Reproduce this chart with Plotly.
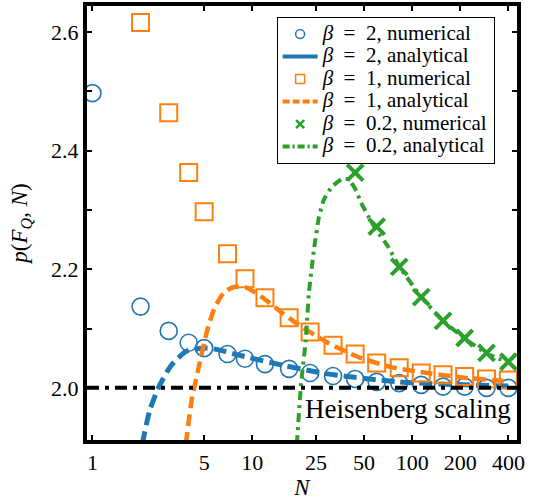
import plotly.graph_objects as go

# ---- data ----
N_num = [1, 2, 3, 4, 5, 7, 9, 12, 17, 23, 32, 44, 60, 83, 114, 156, 213, 292, 400]
p_b2_num = [2.497, 2.137, 2.096, 2.076, 2.067, 2.057, 2.049, 2.040, 2.032, 2.025,
            2.020, 2.015, 2.010, 2.008, 2.005, 2.002, 2.002, 2.000, 2.000]

N_b1_num = [2, 3, 4, 5, 7, 9, 12, 17, 23, 32, 44, 60, 83, 114, 156, 213, 292, 400]
p_b1_num = [2.616, 2.464, 2.363, 2.297, 2.226, 2.184, 2.152, 2.118, 2.094, 2.072,
            2.057, 2.042, 2.034, 2.025, 2.022, 2.019, 2.015, 2.013]

N_b02_num = [44, 60, 83, 114, 156, 213, 292, 400]
p_b02_num = [2.363, 2.272, 2.204, 2.153, 2.113, 2.084, 2.059, 2.044]

N_b2_ana = [2.05, 2.29, 2.64, 3.14, 3.9, 5.2, 6.2, 8.3, 13.3, 28.8, 82, 213, 400]
p_b2_ana = [1.905, 1.963, 2.005, 2.039, 2.062, 2.067, 2.064, 2.055, 2.042, 2.024,
            2.010, 2.005, 2.003]

N_b1_ana = [3.84, 4.18, 4.69, 5.18, 5.81, 6.7, 7.7, 9.2, 11.5, 15.1, 19.6, 28.8,
            46, 74, 131, 213, 400]
p_b1_ana = [1.905, 1.98, 2.042, 2.093, 2.135, 2.162, 2.170, 2.169, 2.153, 2.128,
            2.106, 2.078, 2.052, 2.035, 2.024, 2.017, 2.011]

N_b02_ana = [19.0, 20.2, 21.6, 22.6, 24.3, 26.1, 28.0, 31.4, 36.2, 40, 44, 48, 53,
             60, 70, 83, 114, 156, 213, 292, 400]
p_b02_ana = [1.905, 2.008, 2.08, 2.16, 2.233, 2.288, 2.317, 2.339, 2.352, 2.352,
             2.336, 2.312, 2.29, 2.265, 2.24, 2.205, 2.153, 2.113, 2.083, 2.058, 2.043]

heisenberg = 2.0

x_ticks = [1, 5, 10, 25, 50, 100, 200, 400]
y_ticks = [2.0, 2.1, 2.2, 2.3, 2.4, 2.5, 2.6]
y_ticktext = ["2.0", "", "2.2", "", "2.4", "", "2.6"]

legend_labels = [
    "<i>β</i>\u2002=\u20022, numerical",
    "<i>β</i>\u2002=\u20022, analytical",
    "<i>β</i>\u2002=\u20021, numerical",
    "<i>β</i>\u2002=\u20021, analytical",
    "<i>β</i>\u2002=\u20020.2, numerical",
    "<i>β</i>\u2002=\u20020.2, analytical",
]

BLUE = "#1f77b4"
ORANGE = "#ff7f0e"
GREEN = "#2ca02c"
FONT = "Liberation Serif"

fig = go.Figure()

fig.add_trace(go.Scatter(x=N_num, y=p_b2_num, mode="markers", showlegend=False,
                         marker=dict(symbol="circle-open", size=17, color=BLUE,
                                     line=dict(width=1.6, color=BLUE))))
fig.add_trace(go.Scatter(x=N_b2_ana, y=p_b2_ana, mode="lines", showlegend=False,
                         line=dict(color=BLUE, width=5, dash="13px,6px",
                                   shape="spline", smoothing=0.7)))
fig.add_trace(go.Scatter(x=N_b1_num, y=p_b1_num, mode="markers", showlegend=False,
                         marker=dict(symbol="square-open", size=17, color=ORANGE,
                                     line=dict(width=2, color=ORANGE))))
fig.add_trace(go.Scatter(x=N_b1_ana, y=p_b1_ana, mode="lines", showlegend=False,
                         line=dict(color=ORANGE, width=4.5, dash="12px,6px",
                                   shape="spline", smoothing=0.6)))
fig.add_trace(go.Scatter(x=N_b02_num, y=p_b02_num, mode="markers", showlegend=False,
                         marker=dict(symbol="x-thin", size=16, color=GREEN,
                                     line=dict(width=4, color=GREEN))))
fig.add_trace(go.Scatter(x=N_b02_ana, y=p_b02_ana, mode="lines", showlegend=False,
                         line=dict(color=GREEN, width=4, dash="9px,5px,3px,5px",
                                   shape="spline", smoothing=0.35)))

leg_specs = [
    dict(mode="markers", marker=dict(symbol="circle-open", size=9, color=BLUE,
                                     line=dict(width=1.5, color=BLUE))),
    dict(mode="lines", line=dict(color=BLUE, width=4)),
    dict(mode="markers", marker=dict(symbol="square-open", size=9, color=ORANGE,
                                     line=dict(width=1.5, color=ORANGE))),
    dict(mode="lines", line=dict(color=ORANGE, width=4, dash="7px,3px")),
    dict(mode="markers", marker=dict(symbol="x-thin", size=8, color=GREEN,
                                     line=dict(width=2.5, color=GREEN))),
    dict(mode="lines", line=dict(color=GREEN, width=4, dash="7px,3px,2px,3px")),
]
for lab, spec in zip(legend_labels, leg_specs):
    fig.add_trace(go.Scatter(x=[None], y=[None],
                             name='<span style="font-size:21px">' + lab + '</span>',
                             showlegend=True, **spec))

fig.add_hline(y=heisenberg, line=dict(color="black", width=4, dash="12px,6px,4px,6px"))

fig.add_annotation(text="Heisenberg scaling", xref="paper", yref="paper",
                   x=0.99, y=0.071, xanchor="right", yanchor="middle",
                   showarrow=False, font=dict(family=FONT, size=27, color="black"))

axis_common = dict(showline=True, linewidth=4, linecolor="black", mirror="allticks",
                   ticks="inside", ticklen=5, tickwidth=2, tickcolor="black",
                   showgrid=False, zeroline=False, automargin=False,
                   tickfont=dict(family=FONT, size=22, color="black"))

fig.update_xaxes(type="log", range=[-0.034, 2.656], tickvals=x_ticks,
                 ticktext=[str(v) for v in x_ticks],
                 title=dict(text="<i>N</i>", font=dict(family=FONT, size=23, color="black"),
                            standoff=0),
                 **axis_common)
fig.update_yaxes(range=[1.912, 2.644], tickvals=y_ticks, ticktext=y_ticktext,
                 title=dict(text="<i>p</i>(<i>F<sub>Q</sub></i>, <i>N</i>)",
                            font=dict(family=FONT, size=23, color="black"), standoff=18),
                 **axis_common)

fig.update_layout(
    width=553, height=502,
    margin=dict(l=87, r=35.5, t=6, b=62, autoexpand=False),
    plot_bgcolor="white", paper_bgcolor="white",
    font=dict(family=FONT, color="black"),
    legend=dict(x=0.441, y=0.975, xanchor="left", yanchor="top",
                bgcolor="white", bordercolor="black", borderwidth=1,
                font=dict(family=FONT, size=15, color="black"),
                tracegroupgap=0, itemwidth=35),
)

fig.write_html("out.html", config={"displayModeBar": False},
               post_script="document.body.style.margin='0';")
